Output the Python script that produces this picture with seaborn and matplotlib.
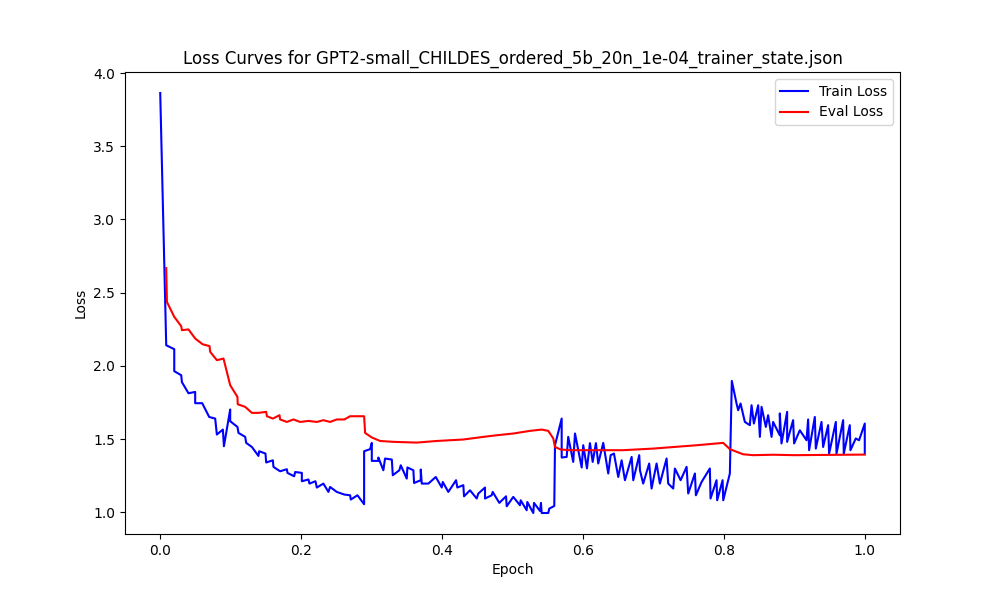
import matplotlib
matplotlib.use("Agg")
import matplotlib.pyplot as plt
import seaborn as sns
import pandas as pd

train_epoch = [
    0.0000, 0.0085, 0.0199, 0.0199, 0.0298, 0.0308, 0.0401, 0.0496, 0.0496, 0.0596,
    0.0695, 0.0780, 0.0804, 0.0889, 0.0904, 0.0993, 0.0993, 0.1096, 0.1111, 0.1206,
    0.1220, 0.1301, 0.1394, 0.1404, 0.1494, 0.1504, 0.1599, 0.1607, 0.1702, 0.1797,
    0.1806, 0.1901, 0.1915, 0.2010, 0.2010, 0.2104, 0.2118, 0.2203, 0.2223, 0.2316,
    0.2387, 0.2411, 0.2506, 0.2614, 0.2695, 0.2705, 0.2799, 0.2894,
    0.2894, 0.2979, 0.3003, 0.3003, 0.3096, 0.3096, 0.3167, 0.3191, 0.3287, 0.3301,
    0.3394, 0.3414, 0.3499, 0.3508, 0.3593, 0.3603, 0.3698, 0.3698, 0.3712, 0.3806,
    0.3911, 0.3996, 0.4010, 0.4089, 0.4199, 0.4217, 0.4302, 0.4312, 0.4397, 0.4492,
    0.4515, 0.4610, 0.4610, 0.4705, 0.4719, 0.4813, 0.4908, 0.4918, 0.5011, 0.5106,
    0.5116, 0.5201, 0.5210, 0.5295, 0.5305, 0.5390, 0.5404, 0.5414, 0.5508, 0.5522,
    0.5593,
    0.5603, 0.5698, 0.5698, 0.5769, 0.5791, 0.5862, 0.5887, 0.5982, 0.6004, 0.6057,
    0.6099, 0.6138, 0.6184, 0.6217, 0.6288, 0.6359, 0.6393, 0.6440, 0.6501, 0.6549,
    0.6596, 0.6691, 0.6714, 0.6799, 0.6809, 0.6855, 0.6940, 0.6974, 0.7045, 0.7092,
    0.7187, 0.7210,
    0.7281, 0.7305, 0.7386, 0.7471, 0.7494, 0.7589, 0.7603, 0.7684, 0.7801, 0.7811,
    0.7896, 0.7905, 0.7982, 0.7991, 0.8085,
    0.8113, 0.8180, 0.8203, 0.8237, 0.8298, 0.8369, 0.8393, 0.8426, 0.8487, 0.8511,
    0.8535, 0.8596, 0.8628, 0.8677, 0.8699, 0.8794, 0.8794, 0.8818, 0.8898, 0.8898,
    0.8983, 0.8997, 0.9078, 0.9173, 0.9196, 0.9210, 0.9291, 0.9305, 0.9386, 0.9409,
    0.9480, 0.9494, 0.9589, 0.9599, 0.9693, 0.9702, 0.9787, 0.9797, 0.9872, 0.9919,
    1.0000, 1.0000,
]
train_loss = [
    3.864, 2.141, 2.114, 1.964, 1.936, 1.889, 1.813, 1.822, 1.745, 1.745,
    1.651, 1.640, 1.531, 1.565, 1.451, 1.702, 1.622, 1.583, 1.542, 1.515,
    1.474, 1.446, 1.385, 1.417, 1.401, 1.340, 1.355, 1.310, 1.280, 1.294,
    1.269, 1.246, 1.275, 1.269, 1.212, 1.224, 1.196, 1.212, 1.169, 1.196,
    1.139, 1.173, 1.139, 1.121, 1.116, 1.087, 1.116, 1.055,
    1.417, 1.431, 1.474, 1.351, 1.351, 1.374, 1.287, 1.367, 1.360, 1.253,
    1.287, 1.321, 1.230, 1.306, 1.287, 1.200, 1.219, 1.292, 1.196, 1.196,
    1.241, 1.169, 1.207, 1.139, 1.219, 1.169, 1.185, 1.109, 1.150, 1.094,
    1.128, 1.169, 1.094, 1.116, 1.139, 1.064, 1.109, 1.041, 1.105, 1.048,
    1.082, 1.014, 1.070, 0.995, 1.064, 1.009, 1.064, 0.995, 0.995, 1.025,
    1.043,
    1.458, 1.640, 1.374, 1.378, 1.515, 1.344, 1.538, 1.306, 1.458, 1.300,
    1.472, 1.344, 1.472, 1.333, 1.474, 1.265, 1.390, 1.401, 1.241, 1.355,
    1.219, 1.378, 1.219, 1.390, 1.287, 1.196, 1.333, 1.162, 1.333, 1.196,
    1.367, 1.196,
    1.162, 1.299, 1.219, 1.310, 1.128, 1.265, 1.116, 1.207, 1.299, 1.094,
    1.219, 1.082, 1.219, 1.082, 1.265,
    1.897, 1.743, 1.697, 1.743, 1.617, 1.595, 1.731, 1.606, 1.731, 1.515,
    1.720, 1.583, 1.663, 1.515, 1.617, 1.526, 1.675, 1.470, 1.686, 1.481,
    1.629, 1.470, 1.560, 1.492, 1.634, 1.424, 1.651, 1.435, 1.617, 1.446,
    1.595, 1.401, 1.617, 1.401, 1.629, 1.401, 1.595, 1.424, 1.504, 1.492,
    1.606, 1.401,
]

eval_epoch = [
    0.0085, 0.0095, 0.0199, 0.0298, 0.0308, 0.0401, 0.0496, 0.0600, 0.0700, 0.0709,
    0.0804, 0.0898, 0.0993, 0.1096, 0.1100, 0.1206, 0.1301, 0.1394, 0.1504, 0.1514,
    0.1599, 0.1693, 0.1702, 0.1797, 0.1891, 0.1986, 0.2104, 0.2223, 0.2316, 0.2411,
    0.2506, 0.2614, 0.2695, 0.2894, 0.2908, 0.3003, 0.3121, 0.3310, 0.3642, 0.3925,
    0.4302, 0.4586, 0.4775, 0.5011, 0.5248, 0.5414, 0.5508, 0.5579, 0.5603, 0.5684,
    0.5816, 0.6567, 0.6996, 0.7617, 0.7991, 0.8085, 0.8274, 0.8416, 0.8700, 0.9000,
    0.9500, 1.0000,
]
eval_loss = [
    2.668, 2.437, 2.335, 2.271, 2.244, 2.249, 2.187, 2.148, 2.135, 2.096,
    2.039, 2.050, 1.868, 1.788, 1.738, 1.720, 1.679, 1.679, 1.686, 1.656,
    1.640, 1.663, 1.634, 1.617, 1.634, 1.617, 1.624, 1.617, 1.629, 1.617,
    1.634, 1.634, 1.656, 1.656, 1.542, 1.511, 1.487, 1.481, 1.476, 1.487,
    1.497, 1.515, 1.526, 1.538, 1.556, 1.565, 1.556, 1.504, 1.446, 1.429,
    1.424, 1.424, 1.435, 1.458, 1.474, 1.431, 1.396, 1.390, 1.393, 1.390,
    1.392, 1.394,
]

train_df = pd.DataFrame({"epoch": train_epoch, "loss": train_loss})
eval_df = pd.DataFrame({"epoch": eval_epoch, "loss": eval_loss})

fig, ax = plt.subplots(figsize=(10, 6), dpi=100)
sns.lineplot(data=train_df, x="epoch", y="loss", sort=False, estimator=None,
             color="blue", label="Train Loss", ax=ax, linewidth=1.5)
sns.lineplot(data=eval_df, x="epoch", y="loss", sort=False, estimator=None,
             color="red", label="Eval Loss", ax=ax, linewidth=1.5)
ax.set_title("Loss Curves for GPT2-small_CHILDES_ordered_5b_20n_1e-04_trainer_state.json")
ax.set_xlabel("Epoch")
ax.set_ylabel("Loss")
ax.legend(loc="upper right")
fig.savefig("out.png", dpi=100)
